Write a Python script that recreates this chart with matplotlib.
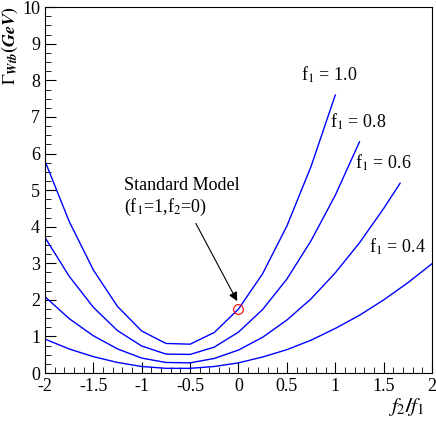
import numpy as np
import matplotlib.pyplot as plt
from matplotlib.ticker import MultipleLocator

plt.rcParams['font.family'] = ['Liberation Serif', 'DejaVu Serif']
plt.rcParams['mathtext.fontset'] = 'stix'

# values, x = f2/f1, width in GeV
x_f10 = [-2, -1.75, -1.5, -1.25, -1, -0.75, -0.5, -0.25, 0, 0.25, 0.5, 0.75, 1]
y_f10 = [5.80, 4.15, 2.82, 1.82, 1.15, 0.81, 0.79, 1.11, 1.75, 2.72, 4.02, 5.65, 7.60]
x_f08 = [-2, -1.75, -1.5, -1.25, -1, -0.75, -0.5, -0.25, 0, 0.25, 0.5, 0.75, 1, 1.25]
y_f08 = [3.71, 2.65, 1.80, 1.16, 0.74, 0.52, 0.51, 0.71, 1.12, 1.74, 2.57, 3.62, 4.86, 6.32]
x_f06 = [-2, -1.75, -1.5, -1.25, -1, -0.75, -0.5, -0.25, 0, 0.25, 0.5, 0.75, 1, 1.25, 1.5, 1.67]
y_f06 = [2.09, 1.49, 1.02, 0.66, 0.41, 0.29, 0.28, 0.40, 0.63, 0.98, 1.45, 2.03, 2.74, 3.56, 4.50, 5.19]
x_f04 = [-2, -1.75, -1.5, -1.25, -1, -0.75, -0.5, -0.25, 0, 0.25, 0.5, 0.75, 1, 1.25, 1.5, 1.75, 2]
y_f04 = [0.93, 0.66, 0.45, 0.29, 0.18, 0.13, 0.13, 0.18, 0.28, 0.44, 0.64, 0.90, 1.22, 1.58, 2.00, 2.47, 2.99]

labels = ['f$_1$ = 1.0', 'f$_1$ = 0.8', 'f$_1$ = 0.6', 'f$_1$ = 0.4']
label_pos = [(0.65, 8.0), (0.95, 6.7), (1.2, 5.6), (1.35, 3.3)]
sm_point = (0.0, 1.75)

fig = plt.figure(figsize=(4.36, 4.23), dpi=100)
ax = fig.add_axes([0.103, 0.118, 0.888, 0.865])

for xs, ys in [(x_f10, y_f10), (x_f08, y_f08), (x_f06, y_f06), (x_f04, y_f04)]:
    ax.plot(xs, ys, color='blue', lw=1)

for lab, (lx, ly) in zip(labels, label_pos):
    ax.text(lx, ly, lab, fontsize=13)

ax.plot(*sm_point, 'o', mfc='none', mec='red', ms=7, mew=0.8)
ax.annotate('Standard Model\n(f$_1$=1,f$_2$=0)', xy=(0.0, 1.9), xytext=(-1.18, 4.4),
            fontsize=13, arrowprops=dict(arrowstyle='-|>', color='black', lw=0.8))

ax.set_xlim(-2, 2)
ax.set_ylim(0, 10)
ax.xaxis.set_minor_locator(MultipleLocator(0.1))
ax.yaxis.set_major_locator(MultipleLocator(1))
ax.yaxis.set_minor_locator(MultipleLocator(0.25))
ax.tick_params(which='both', direction='in', labelsize=13)
ax.tick_params(which='major', length=8)
ax.tick_params(which='minor', length=4)
ax.set_xticks([-2, -1.5, -1, -0.5, 0, 0.5, 1, 1.5, 2])
ax.set_xticklabels(['-2', '-1.5', '-1', '-0.5', '0', '0.5', '1', '1.5', '2'])

fig.text(0.89, 0.025, r'$\boldsymbol{f_2/f_1}$', fontsize=15)
fig.text(0.0, 0.985, r'$\Gamma_{\boldsymbol{Wtb}}$$\boldsymbol{(GeV)}$', fontsize=13,
         rotation=90, va='top', ha='left')

fig.savefig('out.png', dpi=100)
